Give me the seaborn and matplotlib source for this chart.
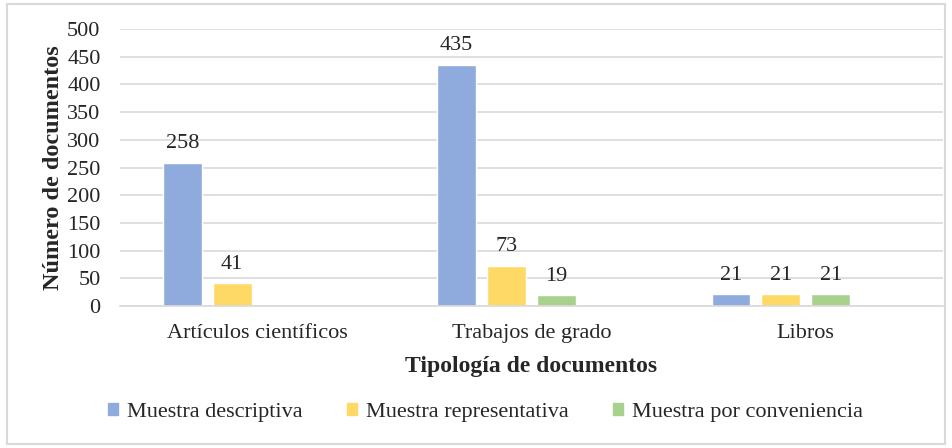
import numpy as np
import pandas as pd
import matplotlib
matplotlib.use("Agg")
import matplotlib.pyplot as plt
import seaborn as sns
from matplotlib.patches import Rectangle

# Data
categories = ["Artículos científicos", "Trabajos de grado", "Libros"]
series = ["Muestra descriptiva", "Muestra representativa", "Muestra por conveniencia"]
descriptiva = [258, 435, 21]
representativa = [41, 73, 21]
conveniencia = [np.nan, 19, 21]
colors = ["#8FAADC", "#FFD966", "#A9D18E"]

# long format; a 4th empty slot mimics the Excel spacing
rows = []
for name, vals in zip(series, [descriptiva, representativa, conveniencia]):
    for cat, v in zip(categories, vals):
        rows.append({"cat": cat, "serie": name, "val": v})
for cat in categories:
    rows.append({"cat": cat, "serie": "_vacio", "val": np.nan})
df = pd.DataFrame(rows)

sns.set_style("white")
plt.rcParams["font.family"] = ["Liberation Serif", "DejaVu Serif"]

fig = plt.figure(figsize=(9.52, 4.48), dpi=100)
ax = fig.add_axes([0.126, 0.317, 0.8645, 0.618])

hue_order = series + ["_vacio"]
palette = dict(zip(series, colors))
palette["_vacio"] = "white"
sns.barplot(data=df, x="cat", y="val", hue="serie", hue_order=hue_order,
            palette=palette, order=categories, width=0.727, gap=0.22,
            saturation=1, errorbar=None, legend=False, ax=ax)

# value labels
for cont in ax.containers:
    labels = ["" if np.isnan(v) else f"{v:.0f}" for v in cont.datavalues]
    ax.bar_label(cont, labels=labels, padding=7, fontsize=16)

ax.set_ylim(0, 500)
ax.set_yticks(range(0, 501, 50))
ax.set_xlim(-0.5, 2.5)
ax.yaxis.grid(True, color="#d9d9d9", linewidth=1.2)
ax.set_axisbelow(True)
for s in ["top", "right", "left"]:
    ax.spines[s].set_visible(False)
ax.spines["bottom"].set_color("#d9d9d9")
ax.spines["bottom"].set_linewidth(1.2)
ax.tick_params(axis="both", length=0, labelsize=16)
ax.tick_params(axis="x", pad=13)
ax.tick_params(axis="y", pad=14)
ax.set_xlabel("Tipología de documentos", fontsize=17, fontweight="bold", labelpad=9)
ax.set_ylabel("Número de documentos", fontsize=17.5, fontweight="bold", labelpad=2)

handles = [Rectangle((0, 0), 1, 1, color=c) for c in colors]
fig.legend(handles, series, loc="center", bbox_to_anchor=(0.51, 0.08), ncol=3,
           frameon=False, fontsize=16, handlelength=0.45, handleheight=0.45,
           handletextpad=0.4, columnspacing=2.0)

# outer frame
fig.patches.append(Rectangle((0.007, 0.01), 0.986, 0.98, transform=fig.transFigure,
                             fill=False, edgecolor="#d9d9d9", linewidth=1.5))

fig.savefig("out.png", dpi=100)
